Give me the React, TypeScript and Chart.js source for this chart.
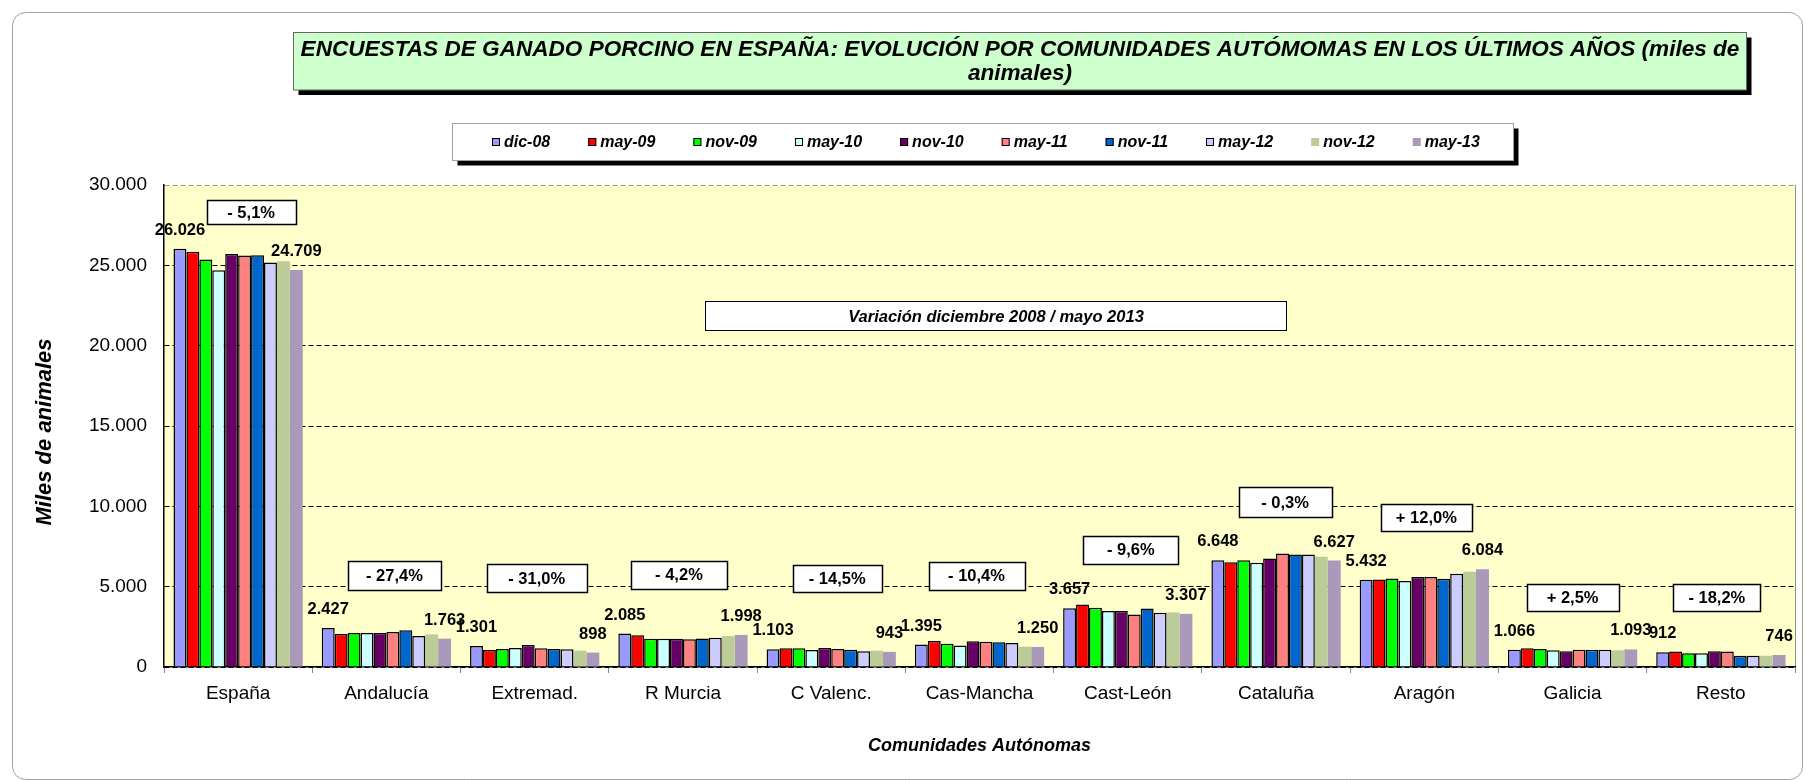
import React, { useEffect, useRef } from 'react';
import { Chart, registerables } from 'chart.js';

Chart.register(...registerables);

// ---------- DATA ----------
const categories = ['España', 'Andalucía', 'Extremad.', 'R Murcia', 'C Valenc.', 'Cas-Mancha', 'Cast-León', 'Cataluña', 'Aragón', 'Galicia', 'Resto'];
const seriesNames = ['dic-08', 'may-09', 'nov-09', 'may-10', 'nov-10', 'may-11', 'nov-11', 'may-12', 'nov-12', 'may-13'];

const dic08 = [26026, 2427, 1301, 2085, 1103, 1395, 3657, 6648, 5432, 1066, 912];
const may09 = [25840, 2050, 1060, 1970, 1160, 1615, 3895, 6525, 5440, 1170, 970];
const nov09 = [25360, 2110, 1120, 1760, 1160, 1450, 3690, 6650, 5510, 1115, 850];
const may10 = [24700, 2110, 1180, 1760, 1055, 1345, 3480, 6485, 5345, 1036, 860];
const nov10 = [25710, 2110, 1370, 1760, 1180, 1595, 3480, 6755, 5600, 980, 975];
const may11 = [25610, 2175, 1160, 1720, 1120, 1575, 3275, 7065, 5600, 1075, 970];
const nov11 = [25630, 2280, 1120, 1780, 1075, 1535, 3645, 7005, 5490, 1075, 705];
const may12 = [25175, 1925, 1100, 1825, 975, 1490, 3375, 7005, 5800, 1075, 700];
const nov12 = [25255, 2030, 1015, 1925, 1015, 1265, 3400, 6860, 5935, 1040, 700];
const may13 = [24709, 1763, 898, 1998, 943, 1250, 3307, 6627, 6084, 1093, 746];

const variationLabels = ['- 5,1%', '- 27,4%', '- 31,0%', '- 4,2%', '- 14,5%', '- 10,4%', '- 9,6%', '- 0,3%', '+ 12,0%', '+ 2,5%', '- 18,2%'];
const yTicks = [0, 5000, 10000, 15000, 20000, 25000, 30000];

const titleLine1 = 'ENCUESTAS DE GANADO PORCINO EN ESPAÑA: EVOLUCIÓN POR COMUNIDADES AUTÓMOMAS EN LOS ÚLTIMOS AÑOS (miles de';
const titleLine2 = 'animales)';
const yTitle = 'Miles de animales';
const xTitle = 'Comunidades Autónomas';
const noteText = 'Variación diciembre 2008 / mayo 2013';

// ---------- STYLE / LAYOUT ----------
const seriesValues = [dic08, may09, nov09, may10, nov10, may11, nov11, may12, nov12, may13];
const seriesColors = ['#9999FF', '#FF0000', '#00FF00', '#CCFFFF', '#660066', '#FF8080', '#0066CC', '#CCCCFF', '#BBCC99', '#AA99BB'];
const seriesBordered = [true, true, true, true, true, true, true, true, false, false];

// variation boxes: offset from category centre (px), vertical anchor (axis value), box size
const boxLayout = [
  { dx: 13, yv: 28320, w: 89, h: 24 },
  { dx: 8, yv: 5680, w: 93, h: 29 },
  { dx: 2, yv: 5520, w: 100, h: 28 },
  { dx: -4, yv: 5740, w: 96, h: 28 },
  { dx: 6, yv: 5490, w: 89, h: 27 },
  { dx: -3, yv: 5680, w: 96, h: 28 },
  { dx: 3, yv: 7300, w: 95, h: 28 },
  { dx: 9, yv: 10250, w: 93, h: 30 },
  { dx: 2, yv: 9320, w: 91, h: 27 },
  { dx: 0, yv: 4310, w: 92, h: 27 },
  { dx: -4, yv: 4310, w: 87, h: 27 },
];

const FONT = "Arial, 'Liberation Sans', sans-serif";

const fmt = (v: number) => String(Math.round(v)).replace(/\B(?=(\d{3})+(?!\d))/g, '.');

const decorPlugin = {
  id: 'decor',
  beforeDraw(chart: any) {
    const { ctx, chartArea: a } = chart;
    ctx.save();
    ctx.fillStyle = '#FFFFFF';
    ctx.fillRect(0, 0, chart.width, chart.height);
    // outer rounded frame
    ctx.strokeStyle = '#A0A0A0';
    ctx.lineWidth = 1;
    ctx.beginPath();
    (ctx as any).roundRect(12.5, 12.5, 1790, 767, 13);
    ctx.stroke();
    // plot area
    ctx.fillStyle = '#FFFFCC';
    ctx.fillRect(a.left, a.top, a.right - a.left, a.bottom - a.top);
    ctx.strokeStyle = '#909090';
    ctx.beginPath();
    ctx.moveTo(Math.round(a.right) + 0.5, a.top);
    ctx.lineTo(Math.round(a.right) + 0.5, a.bottom);
    ctx.stroke();
    ctx.restore();
  },
  afterDatasetsDraw(chart: any) {
    const { ctx } = chart;
    ctx.save();
    ctx.font = `bold 16.5px ${FONT}`;
    ctx.fillStyle = '#000';
    ctx.textAlign = 'center';
    ctx.textBaseline = 'middle';
    [0, seriesValues.length - 1].forEach((di) => {
      const meta = chart.getDatasetMeta(di);
      meta.data.forEach((el: any, i: number) => {
        ctx.fillText(fmt(seriesValues[di][i]), el.x, el.y - 18.5);
      });
    });
    ctx.restore();
  },
  afterDraw(chart: any) {
    const { ctx, scales } = chart;
    const xs = scales.x;
    const ys = scales.y;
    ctx.save();

    // variation boxes
    ctx.font = `bold 16.5px ${FONT}`;
    ctx.textAlign = 'center';
    ctx.textBaseline = 'middle';
    variationLabels.forEach((t, i) => {
      const b = boxLayout[i];
      const cx = xs.getPixelForValue(i) + b.dx;
      const cy = ys.getPixelForValue(b.yv);
      const x0 = Math.round(cx - b.w / 2) + 0.5;
      const y0 = Math.round(cy - b.h / 2) + 0.5;
      ctx.fillStyle = '#FFFFFF';
      ctx.fillRect(x0, y0, b.w, b.h);
      ctx.strokeStyle = '#000';
      ctx.lineWidth = 1.5;
      ctx.strokeRect(x0, y0, b.w, b.h);
      ctx.fillStyle = '#000';
      ctx.fillText(t, cx, cy + 1);
    });

    // note box
    {
      const x0 = 705.5, y0 = 301.5, w = 581, h = 29;
      ctx.fillStyle = '#FFFFFF';
      ctx.fillRect(x0, y0, w, h);
      ctx.strokeStyle = '#000';
      ctx.lineWidth = 1;
      ctx.strokeRect(x0, y0, w, h);
      ctx.fillStyle = '#000';
      ctx.font = `italic bold 16.5px ${FONT}`;
      ctx.fillText(noteText, x0 + w / 2, y0 + h / 2 + 1);
    }

    // title box
    {
      const x0 = 293.5, y0 = 32.5, w = 1453, h = 57.5;
      ctx.fillStyle = '#000';
      ctx.fillRect(x0 + 5, y0 + 5, w, h);
      ctx.fillStyle = '#CCFFCC';
      ctx.fillRect(x0, y0, w, h);
      ctx.strokeStyle = '#666';
      ctx.lineWidth = 1;
      ctx.strokeRect(x0, y0, w, h);
      ctx.font = `italic bold 20px ${FONT}`;
      const mw = ctx.measureText(titleLine1).width;
      const fs = (20 * 1439) / mw;
      ctx.font = `italic bold ${fs}px ${FONT}`;
      ctx.fillStyle = '#000';
      ctx.fillText(titleLine1, x0 + w / 2, 49.5);
      ctx.fillText(titleLine2, x0 + w / 2, 73.5);
    }

    // legend box
    {
      const x0 = 452.5, y0 = 123.5, w = 1061, h = 37;
      ctx.fillStyle = '#000';
      ctx.fillRect(x0 + 5, y0 + 5, w, h);
      ctx.fillStyle = '#FFFFFF';
      ctx.fillRect(x0, y0, w, h);
      ctx.strokeStyle = '#A0A0A0';
      ctx.lineWidth = 1;
      ctx.strokeRect(x0, y0, w, h);
      ctx.font = `italic bold 16px ${FONT}`;
      ctx.textAlign = 'left';
      let x = 492;
      const cy = 142;
      seriesNames.forEach((n, i) => {
        ctx.fillStyle = seriesColors[i];
        ctx.fillRect(x, cy - 4, 8, 8);
        if (seriesBordered[i]) {
          ctx.strokeStyle = '#000';
          ctx.lineWidth = 1;
          ctx.strokeRect(x + 0.5, cy - 3.5, 7, 7);
        }
        ctx.fillStyle = '#000';
        ctx.fillText(n, x + 12, cy + 1);
        x += 12 + ctx.measureText(n).width + 38;
      });
    }

    // axis titles
    ctx.fillStyle = '#000';
    ctx.textAlign = 'center';
    ctx.textBaseline = 'middle';
    ctx.font = `italic bold 18px ${FONT}`;
    ctx.fillText(xTitle, (chart.chartArea.left + chart.chartArea.right) / 2, 746);
    ctx.save();
    ctx.translate(45, 432);
    ctx.rotate(-Math.PI / 2);
    ctx.font = `italic bold 22px ${FONT}`;
    ctx.fillText(yTitle, 0, 0);
    ctx.restore();

    ctx.restore();
  },
};

export default function App() {
  const ref = useRef<HTMLCanvasElement>(null);
  useEffect(() => {
    const chart = new Chart(ref.current as HTMLCanvasElement, {
      type: 'bar',
      data: {
        labels: categories,
        datasets: seriesValues.map((vals, i) => ({
          label: seriesNames[i],
          data: vals,
          backgroundColor: seriesColors[i],
          borderColor: '#000000',
          borderWidth: seriesBordered[i] ? 1.5 : 0,
          barPercentage: 1,
          categoryPercentage: 0.872,
        })),
      },
      options: {
        animation: false,
        responsive: false,
        maintainAspectRatio: false,
        devicePixelRatio: 1,
        layout: { padding: { top: 185, right: 10, left: 0, bottom: 0 } },
        plugins: {
          legend: { display: false },
          title: { display: false },
          tooltip: { enabled: false },
        },
        scales: {
          x: {
            offset: true,
            grid: { display: true, drawOnChartArea: false, drawTicks: true, tickLength: 6, color: '#888', offset: true },
            border: { display: true, color: '#000', width: 1.5 },
            ticks: { color: '#000', font: { family: FONT, size: 19 }, padding: 9, maxRotation: 0, autoSkip: false },
            afterFit: (s: any) => { s.height = 113; },
          },
          y: {
            min: 0,
            max: 30000,
            afterBuildTicks: (s: any) => { s.ticks = yTicks.map((v) => ({ value: v })); },
            ticks: { color: '#000', font: { family: FONT, size: 19 }, padding: 17, callback: (v: any) => fmt(Number(v)) },
            grid: {
              color: (c: any) => (c.tick && c.tick.value === 30000 ? '#999999' : '#000000'),
              lineWidth: 1,
              drawTicks: false,
            },
            border: { display: true, color: '#000', width: 1.5, dash: [5, 3] },
            afterFit: (s: any) => { s.width = 164; },
          },
        },
      },
      plugins: [decorPlugin],
    } as any);
    return () => chart.destroy();
  }, []);
  return (
    <div style={{ position: 'fixed', left: 0, top: 0, width: 1805, height: 780, background: '#fff' }}>
      <canvas ref={ref} width={1805} height={780} style={{ display: 'block', width: 1805, height: 780 }} />
    </div>
  );
}
